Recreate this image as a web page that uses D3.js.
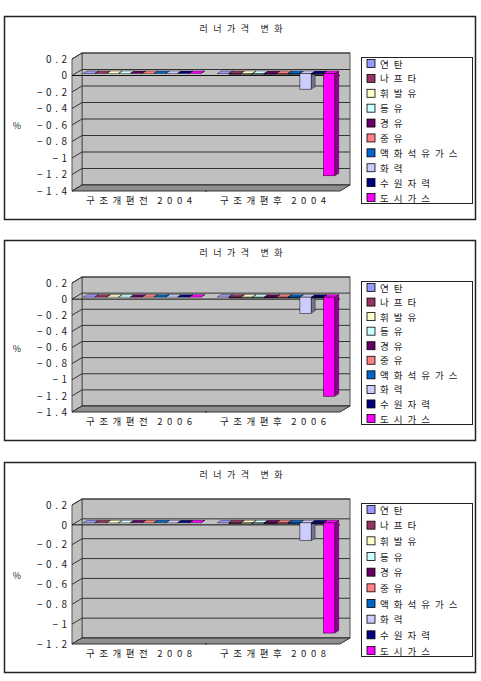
<!DOCTYPE html>
<html>
<head>
<meta charset="utf-8">
<script src="https://cdn.jsdelivr.net/npm/d3@7"></script>
<style>
  body { margin: 0; background: #fff; }
  text { font-family: "Noto Sans CJK KR", "Noto Sans", sans-serif; fill: #222; }
</style>
</head>
<body>
<script>
// chart data
const seriesNames = ["연탄", "나프타", "휘발유", "등유", "경유", "중유", "액화석유가스", "화력", "수원자력", "도시가스"];
const seriesColors = ["#9999FF", "#993366", "#FFFFCC", "#CCFFFF", "#660066", "#FF8080", "#0066CC", "#CCCCFF", "#000080", "#FF00FF"];
const categoryNames = ["구조개편전", "구조개편후"];
const years = ["2004", "2006", "2008"];

const before2004 = [0, 0, 0, 0, 0, 0, 0, 0, 0, 0];
const after2004 = [0, -0.01, -0.01, -0.01, -0.01, -0.01, -0.01, -0.19, -0.01, -1.24];
const before2006 = [0, 0, 0, 0, 0, 0, 0, 0, 0, 0];
const after2006 = [0, -0.01, -0.01, -0.01, -0.01, -0.01, -0.01, -0.2, -0.01, -1.23];
const before2008 = [0, 0, 0, 0, 0, 0, 0, 0, 0, 0];
const after2008 = [0, -0.01, -0.01, -0.01, -0.01, -0.01, -0.01, -0.18, -0.01, -1.11];

const ticks14 = [0.2, 0, -0.2, -0.4, -0.6, -0.8, -1, -1.2, -1.4];
const ticks12 = [0.2, 0, -0.2, -0.4, -0.6, -0.8, -1, -1.2];

const chartTitle = "러너가격 변화";

let svg = d3.select("body").append("svg")
  .attr("width", 481)
  .attr("height", 681);

drawPanel(svg, 16, 219, years[0], [before2004, after2004], ticks14);
drawPanel(svg, 240, 440, years[1], [before2006, after2006], ticks14);
drawPanel(svg, 462, 672, years[2], [before2008, after2008], ticks12);

// spread characters apart like the old wide-spaced chart font
function spaced(textSel, str, gap, spaceGap) {
  let extra = 0;
  let first = true;
  [...str].forEach(ch => {
    if (ch === " ") { extra += spaceGap; return; }
    textSel.append("tspan")
      .attr("dx", first ? 0 : gap + extra)
      .text(ch);
    first = false;
    extra = 0;
  });
}

function drawPanel(svg, top, bottom, year, groups, ticks) {
  let g = svg.append("g");
  let left = 72, right = 340;
  let dx = 10, dy = -6;

  g.append("rect")
    .attr("x", 4.5)
    .attr("y", top + 0.5)
    .attr("width", 471)
    .attr("height", bottom - top)
    .style("fill", "#fff")
    .style("stroke", "#222")
    .style("stroke-width", 1.5);

  let title = g.append("text")
    .attr("x", 241)
    .attr("y", top + 16)
    .style("text-anchor", "middle")
    .style("font-size", "9px");
  spaced(title, chartTitle, 5.5, 6);

  let y = d3.scaleLinear()
    .domain([ticks[0], ticks[ticks.length - 1]])
    .range([top + 43, bottom - 28]);

  let x0 = d3.scaleBand()
    .domain(categoryNames)
    .range([left, right]);

  let x1 = d3.scaleBand()
    .domain(seriesNames)
    .range([0, x0.bandwidth()])
    .paddingInner(0.05)
    .paddingOuter(0.7);

  let yTop = y(ticks[0]), yBot = y(ticks[ticks.length - 1]);
  let pts = p => p.map(d => d.join(",")).join(" ");

  // back wall and side wall
  g.append("rect")
    .attr("x", left + dx)
    .attr("y", yTop + dy)
    .attr("width", right - left)
    .attr("height", yBot - yTop)
    .style("fill", "#c0c0c0")
    .style("stroke", "#555")
    .style("stroke-width", 1);
  g.append("polygon")
    .attr("points", pts([[left, yTop], [left + dx, yTop + dy], [left + dx, yBot + dy], [left, yBot]]))
    .style("fill", "#c0c0c0")
    .style("stroke", "#555")
    .style("stroke-width", 1);

  // gridlines
  ticks.forEach(t => {
    g.append("line")
      .attr("x1", left + dx).attr("x2", right + dx)
      .attr("y1", y(t) + dy).attr("y2", y(t) + dy)
      .style("stroke", "#333").style("stroke-width", 1);
    g.append("line")
      .attr("x1", left).attr("x2", left + dx)
      .attr("y1", y(t)).attr("y2", y(t) + dy)
      .style("stroke", "#333").style("stroke-width", 1);
  });

  // floor
  g.append("polygon")
    .attr("points", pts([[left, yBot], [right, yBot], [right + dx, yBot + dy], [left + dx, yBot + dy]]))
    .style("fill", "#8f8f8f")
    .style("stroke", "#333")
    .style("stroke-width", 1);
  g.append("line")
    .attr("x1", x0(categoryNames[1])).attr("x2", x0(categoryNames[1]))
    .attr("y1", yBot - 1).attr("y2", yBot + 1)
    .style("stroke", "#333");

  // zero line
  g.append("line")
    .attr("x1", left).attr("x2", right)
    .attr("y1", y(0)).attr("y2", y(0))
    .style("stroke", "#111").style("stroke-width", 1);

  // y axis labels
  let axis = d3.axisLeft(y)
    .tickValues(ticks)
    .tickSize(0)
    .tickPadding(0)
    .tickFormat(d => String(d).replace("-", "\u2212"));
  let ax = g.append("g")
    .attr("transform", "translate(67,0)")
    .call(axis);
  ax.select(".domain").remove();
  ax.selectAll("text")
    .style("font-family", "\"Noto Sans CJK KR\", sans-serif")
    .style("font-size", "10px")
    .style("fill", "#222")
    .each(function() {
      let t = d3.select(this);
      let s = t.text();
      t.text("");
      spaced(t, s, 3.5, 0);
    });

  g.append("text")
    .attr("x", 17)
    .attr("y", (yTop + yBot) / 2 + 4)
    .text("%")
    .style("text-anchor", "middle")
    .style("font-size", "9px");

  // bars
  let ox = 3, oy = -2, bdx = 4, bdy = -2.5;
  groups.forEach((values, ci) => {
    values.forEach((v, si) => {
      let c = seriesColors[si];
      let bx = x0(categoryNames[ci]) + x1(seriesNames[si]) + ox;
      let w = x1.bandwidth();
      let ya = y(0) + oy, yb = y(v) + oy;
      let y1 = Math.min(ya, yb), y2 = Math.max(ya, yb);
      g.append("polygon")
        .attr("points", pts([[bx + w, y1], [bx + w + bdx, y1 + bdy], [bx + w + bdx, y2 + bdy], [bx + w, y2]]))
        .style("fill", d3.color(c).darker(1.6))
        .style("stroke", "#000").style("stroke-width", 0.4);
      g.append("polygon")
        .attr("points", pts([[bx, y1], [bx + bdx, y1 + bdy], [bx + w + bdx, y1 + bdy], [bx + w, y1]]))
        .style("fill", c)
        .style("stroke", "#000").style("stroke-width", 0.4);
      g.append("rect")
        .attr("x", bx).attr("y", y1)
        .attr("width", w).attr("height", y2 - y1)
        .style("fill", c)
        .style("stroke", "#000").style("stroke-width", 0.5);
    });
  });

  // category labels
  categoryNames.forEach(cn => {
    let t = g.append("text")
      .attr("x", x0(cn) + x0.bandwidth() / 2)
      .attr("y", yBot + 13)
      .style("text-anchor", "middle")
      .style("font-size", "9.5px");
    spaced(t, cn + " " + year, 4.5, 5);
  });

  // legend
  let lx = 361, ly = top + 41, lw = 111, lh = bottom - 16 - ly;
  g.append("rect")
    .attr("x", lx + 0.5).attr("y", ly + 0.5)
    .attr("width", lw).attr("height", lh)
    .style("fill", "#fff")
    .style("stroke", "#222")
    .style("stroke-width", 1);
  let step = (lh - 12) / 9;
  seriesNames.forEach((name, i) => {
    let cy = ly + 6.5 + i * step;
    g.append("rect")
      .attr("x", 367).attr("y", cy - 4)
      .attr("width", 8).attr("height", 8)
      .style("fill", seriesColors[i])
      .style("stroke", "#000")
      .style("stroke-width", 0.8);
    let t = g.append("text")
      .attr("x", 380)
      .attr("y", cy + 4)
      .style("font-size", "9.5px");
    spaced(t, name, 5, 0);
  });
}
</script>
</body>
</html>
